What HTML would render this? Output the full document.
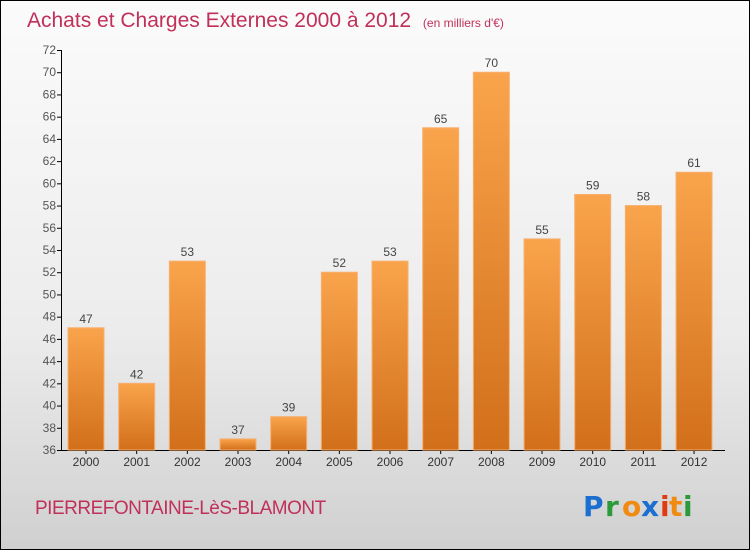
<!DOCTYPE html>
<html><head><meta charset="utf-8"><style>
html,body{margin:0;padding:0}
body{width:750px;height:550px;overflow:hidden;font-family:"Liberation Sans",sans-serif}
</style></head><body>
<svg id="chart" width="750" height="550" xmlns="http://www.w3.org/2000/svg">
<defs>
<linearGradient id="bg" x1="0" y1="0" x2="0" y2="1"><stop offset="0" stop-color="#fbfbfb"/><stop offset="0.6" stop-color="#ececec"/><stop offset="1" stop-color="#d0d0d0"/></linearGradient>
<linearGradient id="bar" x1="0" y1="0" x2="0" y2="1"><stop offset="0" stop-color="#f9a44c"/><stop offset="1" stop-color="#d26f1a"/></linearGradient>
</defs>
<rect x="0.5" y="0.5" width="749" height="549" fill="url(#bg)" stroke="#000"/>
<text x="27" y="27" font-size="21" fill="#c0305a">Achats et Charges Externes 2000 à 2012 <tspan font-size="12" dx="6">(en milliers d'€)</tspan></text>
<g id="axes"></g>
<g id="bars"></g>
<text x="35" y="514" font-size="19" fill="#c0305a" letter-spacing="-0.5">PIERREFONTAINE-LèS-BLAMONT</text>
<g font-size="28" font-weight="bold" font-family="'DejaVu Sans',sans-serif">
<text x="583" y="516" fill="#1a6fd0">P</text><text x="605" y="516" fill="#2a9a3a">r</text><text x="622" y="516" fill="#f08a10">o</text><text x="641" y="516" fill="#1a6fd0">x</text><text x="660" y="516" fill="#e03a10">i</text><text x="669" y="516" fill="#f08a10">t</text><text x="683" y="516" fill="#2a9a3a">i</text>
</g>
</svg>
<script>
const years=['2000','2001','2002','2003','2004','2005','2006','2007','2008','2009','2010','2011','2012'];
const values=[47,42,53,37,39,52,53,65,70,55,59,58,61];
const yTicks=[36,38,40,42,44,46,48,50,52,54,56,58,60,62,64,66,68,70,72];
const NS='http://www.w3.org/2000/svg';
const y0=450,y1=50,vmin=36,vmax=72;
const y=v=>y0-(v-vmin)/(vmax-vmin)*(y0-y1);
const x=i=>86+i*50.67;
function mk(t,a,p){const e=document.createElementNS(NS,t);for(const k in a)e.setAttribute(k,a[k]);p.appendChild(e);return e;}
const ax=document.getElementById('axes'),bg=document.getElementById('bars');
const yl=mk('line',{x1:61.5,x2:61.5,y1:y1,y2:y0,stroke:'#000'},ax);


const xl=mk('line',{x1:61,x2:725,y1:y0+0.5,y2:y0+0.5,stroke:'#000'},ax);


yTicks.forEach(v=>{
 mk('line',{x1:57,x2:61,y1:y(v)+0.5,y2:y(v)+0.5,stroke:'#000'},ax);
 const t=mk('text',{x:56,y:y(v)+4,'text-anchor':'end','font-size':12,fill:'#555'},ax);
 t.textContent=v;
 
 
});
years.forEach((yr,i)=>{
 const cx=x(i),v=values[i];
 const r=mk('rect',{x:cx-18,y:y(v),width:36,height:y0-y(v),fill:'url(#bar)',stroke:'#f7b070','stroke-width':1},bg);
 
 
 const l=mk('text',{x:cx,y:y(v)-5,'text-anchor':'middle','font-size':12,fill:'#444'},bg);
 l.textContent=v;
 
 
 mk('line',{x1:cx,x2:cx,y1:y0,y2:y0+4,stroke:'#000'},ax);
 const xt=mk('text',{x:cx,y:466,'text-anchor':'middle','font-size':12,fill:'#333'},ax);
 xt.textContent=yr;
 
 
});
</script>
</body></html>
